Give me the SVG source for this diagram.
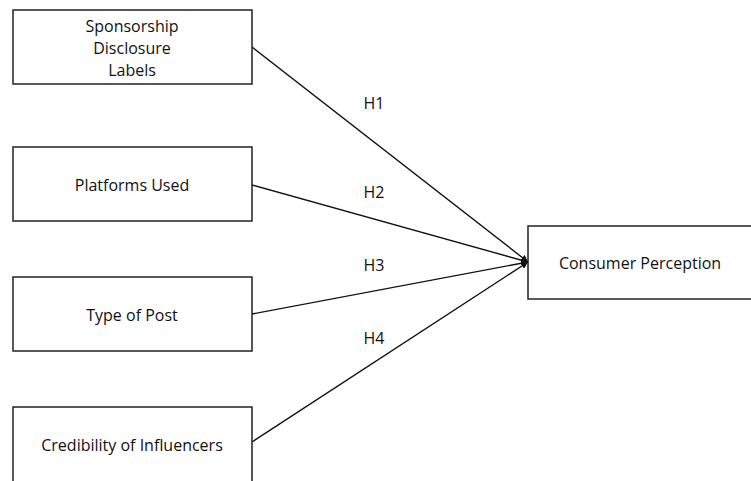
<svg xmlns="http://www.w3.org/2000/svg" width="751" height="481" viewBox="0 0 751 481">
<style>
.box{fill:#fff;stroke:#222;stroke-width:1.5}
.t{font-family:"Open Sans","Liberation Sans",sans-serif;font-size:16px;fill:#111;text-anchor:middle}
.c{stroke:#111;stroke-width:1.4;fill:none}
</style>
<defs>
<marker id="a" viewBox="0 0 10 10" refX="10" refY="5" markerWidth="7" markerHeight="7" orient="auto" markerUnits="userSpaceOnUse">
<path d="M0,0 L10,5 L0,10 z" fill="#111"/>
</marker>
</defs>
<rect width="751" height="481" fill="#fff"/>
<g id="connectors">
<line class="c" x1="252" y1="47" x2="528" y2="262" marker-end="url(#a)"/>
<line class="c" x1="252" y1="185" x2="528" y2="262" marker-end="url(#a)"/>
<line class="c" x1="252" y1="314" x2="528" y2="262" marker-end="url(#a)"/>
<line class="c" x1="252" y1="442" x2="528" y2="262" marker-end="url(#a)"/>
<text class="t" x="374" y="109">H1</text>
<text class="t" x="374" y="198">H2</text>
<text class="t" x="374" y="271">H3</text>
<text class="t" x="374" y="344">H4</text>
</g>
<g id="n1"><rect class="box" x="13" y="10" width="239" height="74"/>
<text class="t" x="132" y="32">Sponsorship</text>
<text class="t" x="132" y="54">Disclosure</text>
<text class="t" x="132" y="76">Labels</text></g>
<g id="n2"><rect class="box" x="13" y="147" width="239" height="74"/>
<text class="t" x="132" y="191">Platforms Used</text></g>
<g id="n3"><rect class="box" x="13" y="277" width="239" height="74"/>
<text class="t" x="132" y="321">Type of Post</text></g>
<g id="n4"><rect class="box" x="13" y="407" width="239" height="80"/>
<text class="t" x="132" y="451">Credibility of Influencers</text></g>
<g id="n5"><rect class="box" x="528" y="226" width="224" height="73"/>
<text class="t" x="640" y="269">Consumer Perception</text></g>
</svg>
